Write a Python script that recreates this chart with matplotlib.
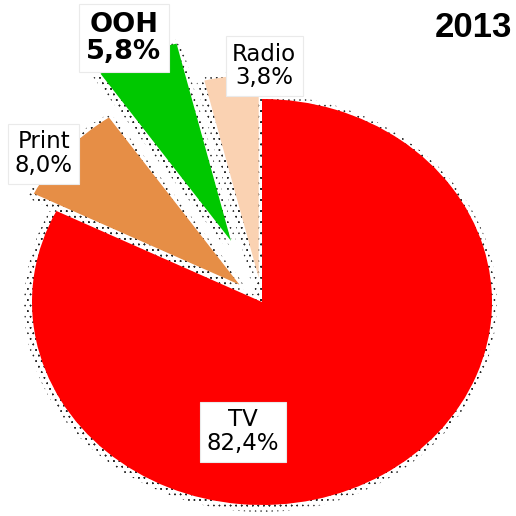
import matplotlib
matplotlib.use("Agg")
import matplotlib.pyplot as plt

# Media advertising share, 2013
year = "2013"
media = ["TV", "Print", "OOH", "Radio"]
shares = [82.4, 8.0, 5.8, 3.8]
colors = ["#FF0000", "#E68E46", "#00C800", "#FAD2B2"]
explode = [0.0, 0.13, 0.33, 0.12]
bold_label = [False, False, True, False]

# label centres in figure fraction
label_pos = [(0.471, 0.163), (0.085, 0.702), (0.240, 0.926), (0.512, 0.872)]
label_size = [16.5, 16.5, 19.5, 16.5]

W = H = 516
fig = plt.figure(figsize=(W / 100, H / 100), dpi=100)
ax = fig.add_axes([0, 0, 1, 1])

# pie is drawn in unit circle space and stretched horizontally by the axes
cx_px, cy_px, rx_px, ry_px = 262, 302, 230, 203
plt.rcParams["hatch.linewidth"] = 0.3

# dotted shadow halo: the same pie repeated with small offsets
offsets = [(-7, 0), (-5, -5), (0, -7), (-8, -3), (4, -3), (5, 0), (0, 4)]
for ox, oy in offsets:
    sh, _ = ax.pie(shares, explode=explode, startangle=90, counterclock=False,
                   center=(ox / rx_px, oy / ry_px), radius=1.0,
                   wedgeprops=dict(facecolor="none", edgecolor="#222222",
                                   linewidth=0, hatch="..."))
    for w in sh:
        w.set_zorder(1)

wedges, _ = ax.pie(shares, explode=explode, colors=colors, startangle=90,
                   counterclock=False, radius=1.0,
                   wedgeprops=dict(linewidth=0))
for w in wedges:
    w.set_zorder(2)

ax.set_aspect("auto")
ax.set_xlim(-cx_px / rx_px, (W - cx_px) / rx_px)
ax.set_ylim(-(H - cy_px) / ry_px, cy_px / ry_px)
ax.axis("off")

for name, val, (x, y), b, fs in zip(media, shares, label_pos, bold_label, label_size):
    txt = f"{name}\n{val:.1f}".replace(".", ",") + "%"
    fig.text(x, y, txt, ha="center", va="center", fontsize=fs,
             family="DejaVu Sans", fontweight="bold" if b else "normal",
             linespacing=1.05, zorder=5,
             bbox=dict(boxstyle="square,pad=0.28", facecolor="white",
                       edgecolor="#EAEAEA", linewidth=0.8))

fig.text(0.992, 0.947, year, ha="right", va="center", fontsize=25,
         family="Liberation Sans", fontweight="bold")

fig.savefig("out.png", dpi=100)
